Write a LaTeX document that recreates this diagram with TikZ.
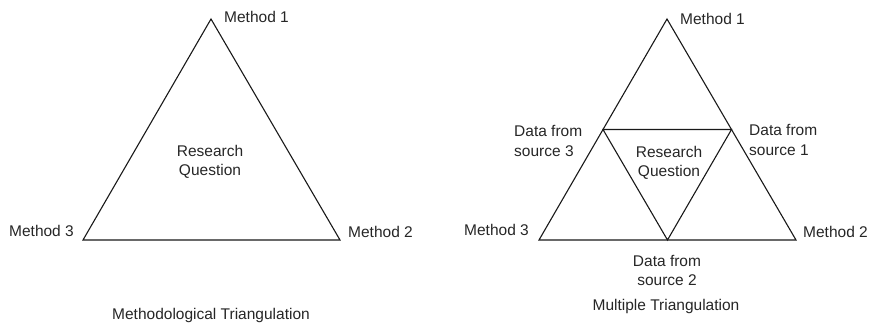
\documentclass[tikz,border=0pt]{standalone}
\usepackage{fontspec}
\setmainfont{Liberation Sans}
\begin{document}
\begin{tikzpicture}[x=1pt,y=-1pt,
  lbl/.style={inner sep=0pt, font=\fontsize{15.5}{19.5}\selectfont, text=black!85},
  edge/.style={draw=black!90, line width=1.1pt, line join=miter}]
\useasboundingbox (0,0) rectangle (873,325);
% left triangle
\coordinate (lA) at (211,19);
\coordinate (lB) at (340,240);
\coordinate (lC) at (83,240);
\draw[edge] (lA) -- (lB) -- (lC) -- cycle;
\node[lbl, anchor=west] (lm1) at (224,17) {Method 1};
\node[lbl, anchor=east] (lm3) at (74,231) {Method 3};
\node[lbl, anchor=west] (lm2) at (348,232) {Method 2};
\node[lbl, align=center] (lrq) at (210,162) {Research\\Question};
\node[lbl] (ltitle) at (211,315) {Methodological Triangulation};
% right triangle
\coordinate (rA) at (667,19);
\coordinate (rB) at (796,240);
\coordinate (rC) at (539,240);
\draw[edge] (rA) -- (rB) -- (rC) -- cycle;
\coordinate (rAB) at (731.5,129.5);
\coordinate (rAC) at (603,129.5);
\coordinate (rBC) at (667.5,240);
\draw[edge] (rAB) -- (rAC) -- (rBC) -- cycle;
\node[lbl, anchor=west] (rm1) at (680,19) {Method 1};
\node[lbl, anchor=east] (rm3) at (529,230) {Method 3};
\node[lbl, anchor=west] (rm2) at (803,232) {Method 2};
\node[lbl, align=center] (rrq) at (669,163) {Research\\Question};
\node[lbl, align=left, anchor=west] (rd3) at (514,141) {Data from\\source 3};
\node[lbl, align=left, anchor=west] (rd1) at (749,140) {Data from\\source 1};
\node[lbl, align=center] (rd2) at (667,270.5) {Data from\\source 2};
\node[lbl] (rtitle) at (666,306) {Multiple Triangulation};
\end{tikzpicture}
\end{document}
